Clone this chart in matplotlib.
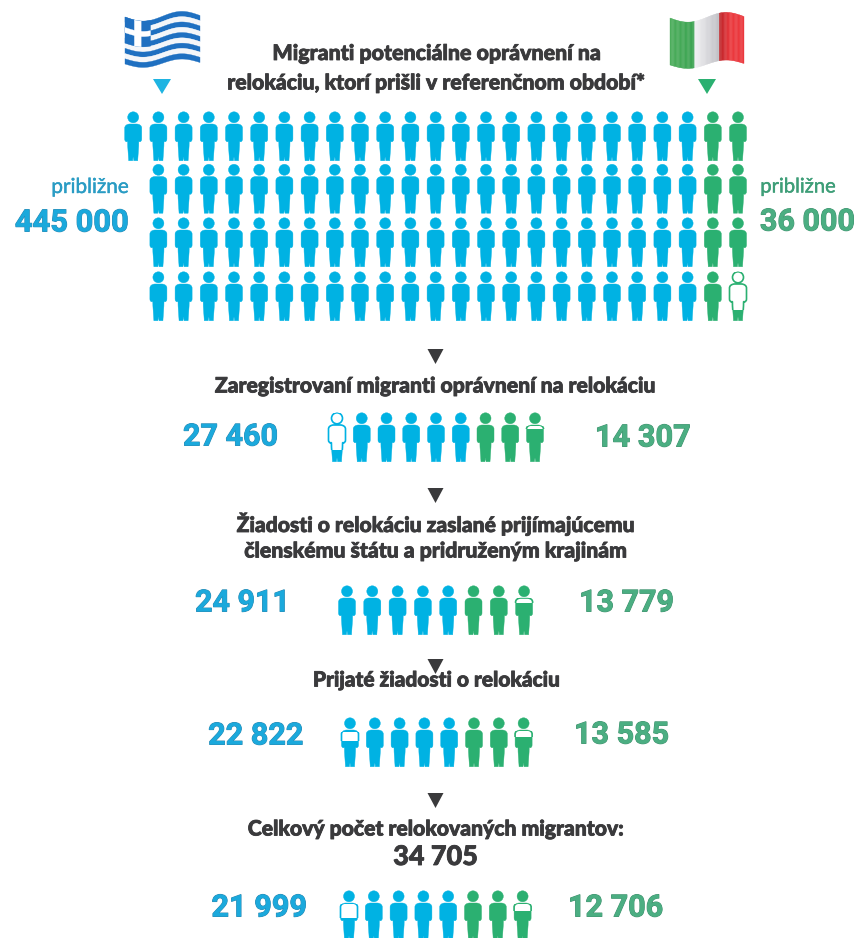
import numpy as np
import matplotlib
matplotlib.use("Agg")
import matplotlib.pyplot as plt
import matplotlib.patheffects as pe
from matplotlib.path import Path
from matplotlib.patches import PathPatch, Rectangle, Polygon
from matplotlib.transforms import Affine2D

# Eligible migrants, shown as icon rows (blue = Greece, green = Italy)
greece_icons_per_row = [23, 22, 22, 22]
italy_icons_per_row = [2, 2, 2, 2]
eligible_greece = "445 000"
eligible_italy = "36 000"
approx_label = "približne"

stage_titles = [
    ["Zaregistrovaní migranti oprávnení na relokáciu"],
    ["Žiadosti o relokáciu zaslané prijímajúcemu", "členskému štátu a pridruženým krajinám"],
    ["Prijaté žiadosti o relokáciu"],
    ["Celkový počet relokovaných migrantov:"],
]
stage_greece = ["27 460", "24 911", "22 822", "21 999"]
stage_italy = ["14 307", "13 779", "13 585", "12 706"]
stage_total = "34 705"
stage_greece_icons = [6, 5, 5, 5]
stage_italy_icons = [3, 3, 3, 3]
# Empty part of the partly filled icons: (from, to) as a share of icon height
stage_greece_gap = [(0.0, 0.77), None, (0.28, 0.48), (0.27, 0.55)]
stage_italy_gap = [(0.27, 0.33), (0.24, 0.35), (0.26, 0.38), (0.26, 0.41)]
eligible_italy_gap = (0.0, 0.78)

title_lines = ["Migranti potenciálne oprávnení na",
               "relokáciu, ktorí prišli v referenčnom období*"]

BLUE = "#00B2E3"
GREEN = "#2BB071"
DARK = "#3A3A3C"
BLUE_TXT = "#1BA9DC"
GREEN_TXT = "#4BAE82"

fig = plt.figure(figsize=(8.57, 9.38), dpi=100)
ax = fig.add_axes([0, 0, 1, 1])
ax.set_xlim(0, 857)
ax.set_ylim(938, 0)
ax.axis("off")
renderer = fig.canvas.get_renderer()

# Person icon in pixel units, origin at top centre, y pointing down
ICON_H = 48.7
verts = [(-3.5, 12), (3.5, 12), (6.8, 12.2), (8.5, 14), (8.5, 16), (8.5, 27),
         (8.5, 29.8), (6.5, 29.8), (5.6, 29.5), (5.5, 34), (4.5, 48.7), (0.6, 48.7),
         (0.2, 45.5), (-0.2, 45.5), (-0.6, 48.7), (-4.5, 48.7), (-5.5, 34), (-5.6, 29.5),
         (-6.5, 29.8), (-8.5, 29.8), (-8.5, 27), (-8.5, 16), (-8.5, 14), (-6.8, 12.2),
         (-3.5, 12), (-3.5, 12)]
codes = [Path.MOVETO, Path.LINETO, Path.CURVE4, Path.CURVE4, Path.CURVE4, Path.LINETO,
         Path.CURVE3, Path.CURVE3, Path.LINETO, Path.LINETO, Path.LINETO, Path.LINETO,
         Path.LINETO, Path.LINETO, Path.LINETO, Path.LINETO, Path.LINETO, Path.LINETO,
         Path.LINETO, Path.CURVE3, Path.CURVE3, Path.LINETO, Path.CURVE4, Path.CURVE4,
         Path.CURVE4, Path.CLOSEPOLY]
body = Path(verts, codes)
head = Path.circle((0, 5.3), 5.5)
person = Path.make_compound_path(body, head)


def draw_person(cx, top, color, gap=None):
    tf = Affine2D().translate(cx, top) + ax.transData
    ax.add_patch(PathPatch(person, facecolor=color, edgecolor=color, lw=0.3, transform=tf))
    if gap is not None:
        band = Rectangle((-12, gap[0] * ICON_H), 24, (gap[1] - gap[0]) * ICON_H,
                         transform=tf)
        hollow = PathPatch(person, facecolor="white", edgecolor=color, lw=1.2, transform=tf)
        ax.add_patch(hollow)
        hollow.set_clip_path(band)


def draw_row(x0, step, top, n_blue, n_green, blue_gap=None, green_gap=None):
    for i in range(n_blue):
        draw_person(x0 + i * step, top, BLUE, blue_gap if i == 0 else None)
    for j in range(n_green):
        draw_person(x0 + (n_blue + j) * step, top, GREEN,
                    green_gap if j == n_green - 1 else None)


def fit_text(s, left, right, y, color, weight="black", family="Lato", edge=None, edge_w=0.7):
    t = ax.text((left + right) / 2, y, s, ha="center", va="center", color=color,
                fontsize=14, fontweight=weight, family=family)
    t.set_fontsize(14 * (right - left) / t.get_window_extent(renderer).width)
    if edge:
        t.set_path_effects([pe.withStroke(linewidth=edge_w, foreground=edge)])
    return t


def tri(cx, top, width, height, color):
    ax.add_patch(Polygon([(cx - width / 2, top), (cx + width / 2, top), (cx, top + height)],
                         closed=True, facecolor=color, edgecolor="none"))


def wave_point(u, v, x0, width, top, height):
    """Map flag coordinates (0..1, 0..1) onto the waving cloth."""
    u = np.asarray(u, dtype=float)
    off = 4.5 * np.sin(2 * np.pi * u)
    return np.column_stack([x0 + u * width,
                            top + v * height + off * (1 - 0.15 * v) - 1.5 * u])


def cloth_patch(u0, u1, v0, v1, box, color, z=2):
    us = np.linspace(u0, u1, 40)
    top_edge = wave_point(us, v0, *box)
    bottom_edge = wave_point(us[::-1], v1, *box)
    ax.add_patch(Polygon(np.vstack([top_edge, bottom_edge]), closed=True, facecolor=color,
                         edgecolor=color, lw=0.25, zorder=z))


def greek_flag(box):
    blue = "#1F70C1"
    shaded_white = "#F4F6F9"
    for s in range(9):
        cloth_patch(0, 1, s / 9, (s + 1) / 9, box, blue if s % 2 == 0 else shaded_white)
    cloth_patch(0, 0.34, 0, 5 / 9, box, blue, z=3)
    cloth_patch(0.125, 0.215, 0, 5 / 9, box, "white", z=4)
    cloth_patch(0, 0.34, 2 / 9, 3 / 9, box, "white", z=4)


def italian_flag(box):
    n = 60
    for i in range(n):
        u = (i + 0.5) / n
        s = (u * 3) % 1
        if u < 1 / 3:
            c = np.array([0.30, 0.68, 0.36]) + s * np.array([-0.07, -0.04, -0.04])
        elif u < 2 / 3:
            c = np.array([0.95, 0.95, 0.96]) - s * np.array([0.20, 0.20, 0.19])
        else:
            c = np.array([0.74, 0.14, 0.16]) + min(s * 2.2, 1) * np.array([0.18, 0.08, 0.08])
        cloth_patch(i / n, (i + 1) / n, 0, 1, box, tuple(c))


greek_flag((125, 75, 17, 47))
italian_flag((670, 74, 18, 47))
tri(162, 79, 18, 15, "#1FB4E2")
tri(707, 79, 18, 15, GREEN)

fit_text(title_lines[0], 272, 602, 53.5, DARK, edge=DARK, edge_w=0.6)
fit_text(title_lines[1], 226, 647, 83, DARK, edge=DARK, edge_w=0.6)

# Grid of eligible migrants: first row starts one column further left
grid_tops = [112, 164.5, 218, 272]
for r, top in enumerate(grid_tops):
    n_b, n_g = greece_icons_per_row[r], italy_icons_per_row[r]
    x0 = 738 - (n_b + n_g - 1) * 25.2
    gap = eligible_italy_gap if r == len(grid_tops) - 1 else None
    draw_row(x0, 25.2, top, n_b, n_g, green_gap=gap)

fit_text(approx_label, 51, 129, 187, "#2A9CC4", weight="normal", edge="#2A9CC4", edge_w=0.3)
fit_text(approx_label, 760, 836, 187, "#3E9E78", weight="normal", edge="#3E9E78", edge_w=0.3)
fit_text(eligible_greece, 15, 129, 222.5, BLUE_TXT, weight="bold", family="Roboto", edge="#2C86AE")
fit_text(eligible_italy, 760, 855, 222.5, GREEN_TXT, weight="bold", family="Roboto", edge="#3F8F6D")

# Funnel stages
arrow_tops = [349, 488, 659, 793]
title_ys = [[386], [524, 551], [680], [829]]
title_spans = [[(214, 657)], [(236, 637), (243, 628)], [(312, 561)], [(247, 625)]]
row_x0 = [337, 347, 350, 349]
row_step = [24.75, 25.3, 24.8, 24.8]
row_top = [413, 586, 718, 891]
g_span = [(183, 278), (195, 290), (208, 303), (211, 307)]
i_span = [(595, 691), (579, 674), (574, 669), (568, 663)]
num_y = [437.5, 603.5, 735.5, 907.5]

for k in range(4):
    tri(435.5, arrow_tops[k], 16, 15, DARK)
    for line, y, span in zip(stage_titles[k], title_ys[k], title_spans[k]):
        fit_text(line, span[0], span[1], y, DARK, edge=DARK, edge_w=0.6)
    draw_row(row_x0[k], row_step[k], row_top[k], stage_greece_icons[k], stage_italy_icons[k],
             stage_greece_gap[k], stage_italy_gap[k])
    fit_text(stage_greece[k], g_span[k][0], g_span[k][1], num_y[k], BLUE_TXT, weight="bold",
             family="Roboto", edge="#2C86AE")
    fit_text(stage_italy[k], i_span[k][0], i_span[k][1], num_y[k], GREEN_TXT, weight="bold",
             family="Roboto", edge="#3F8F6D")

fit_text(stage_total, 393, 478, 857, DARK, edge=DARK, edge_w=0.6)

fig.savefig("out.png", dpi=100, facecolor="white")
